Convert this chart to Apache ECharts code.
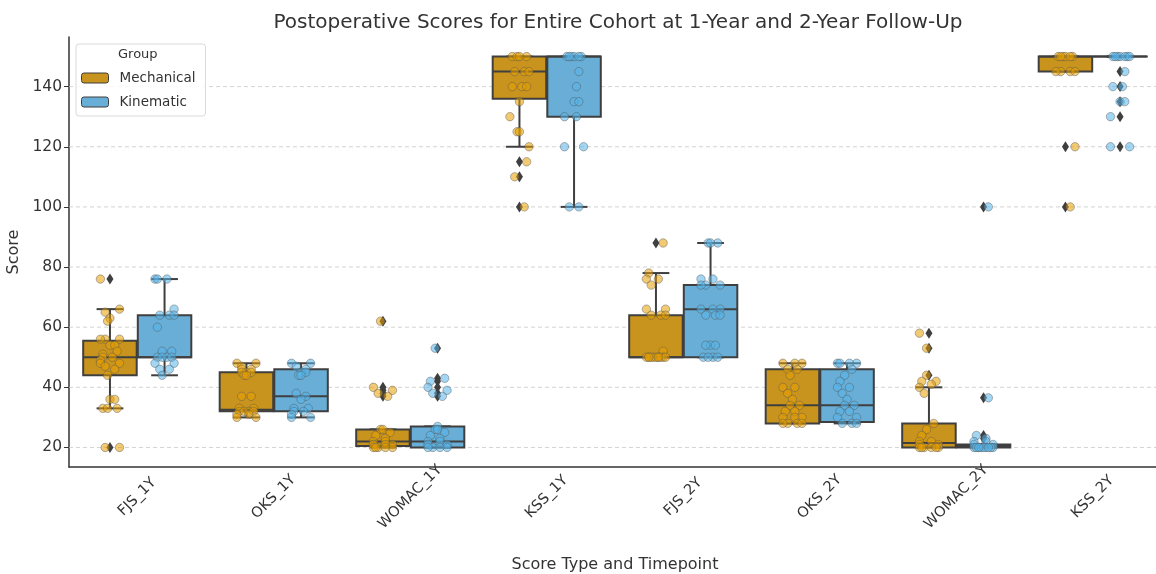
<!DOCTYPE html>
<html>
<head>
<meta charset="utf-8">
<script src="https://cdn.jsdelivr.net/npm/echarts@6/dist/echarts.min.js"></script>
<style>html,body{margin:0;padding:0;background:#fff}#chart{width:1156px;height:574px}</style>
</head>
<body>
<div id="chart"></div>
<script>
const categories = ["FJS_1Y", "OKS_1Y", "WOMAC_1Y", "KSS_1Y", "FJS_2Y", "OKS_2Y", "WOMAC_2Y", "KSS_2Y"];
const yTicks = [20, 40, 60, 80, 100, 120, 140];

// box stats: [lower whisker, Q1, median, Q3, upper whisker]
const mechBox = [
  [33, 44, 50, 55.5, 66],
  [30, 32, 32.5, 45, 48],
  [20, 20.5, 22, 26, 26],
  [120, 136, 145, 150, 150],
  [50, 50, 50, 64, 78],
  [28, 28, 34, 46, 48],
  [20, 20, 21.5, 28, 40],
  [145, 145, 150, 150, 150]
];
const kinBox = [
  [44, 50, 50, 64, 76],
  [30, 32, 37, 46, 48],
  [20, 20, 22, 27, 27],
  [100, 130, 150, 150, 150],
  [50, 50, 66, 74, 88],
  [28, 28.5, 34, 46, 48],
  [20, 20, 20.5, 21, 21],
  [150, 150, 150, 150, 150]
];

// fliers: [category index, value]
const mechOutliers = [[0, 76], [0, 20], [2, 62], [2, 40], [2, 39], [2, 38], [2, 37], [3, 115], [3, 110], [3, 100],
  [4, 88], [6, 58], [6, 53], [6, 44], [7, 120], [7, 100]];
const kinOutliers = [[2, 53], [2, 43], [2, 42], [2, 40], [2, 38], [2, 37], [6, 100], [6, 36.5], [6, 24], [6, 23],
  [7, 145], [7, 140], [7, 135], [7, 130], [7, 120]];

// individual scores per category
const mechPoints = [
  [76, 66, 65, 63, 62, 56, 56, 56, 54, 54, 52, 51, 50, 50, 49, 48, 48, 47, 46, 44, 36, 36, 33, 33, 33, 20, 20],
  [48, 48, 47, 46, 46, 45, 45, 45, 44, 44, 37, 37, 33, 33, 32, 32, 32, 32, 31, 31, 30, 30],
  [62, 40, 39, 38, 37, 26, 26, 25, 24, 23, 22, 22, 21, 21, 21, 20, 20, 20, 20, 20],
  [150, 150, 150, 150, 145, 145, 145, 140, 140, 140, 135, 130, 125, 125, 120, 115, 110, 100],
  [88, 78, 76, 76, 74, 66, 66, 64, 64, 64, 52, 50, 50, 50, 50, 50, 50, 50, 50, 50, 50, 50],
  [48, 48, 48, 46, 46, 44, 40, 40, 38, 36, 34, 34, 32, 32, 30, 30, 30, 28, 28, 28, 28],
  [58, 53, 44, 42, 42, 41, 40, 38, 28, 26, 24, 22, 22, 21, 21, 20, 20, 20, 20, 20, 20],
  [150, 150, 150, 150, 150, 150, 145, 145, 145, 145, 120, 100]
];
const kinPoints = [
  [76, 76, 76, 66, 64, 64, 64, 60, 52, 52, 50, 50, 50, 50, 48, 48, 46, 46, 44],
  [48, 48, 47, 46, 45, 45, 44, 44, 38, 37, 36, 33, 33, 32, 32, 31, 30, 30],
  [53, 43, 42, 40, 39, 38, 37, 27, 26, 26, 25, 24, 23, 22, 22, 21, 21, 20, 20, 20, 20],
  [150, 150, 150, 150, 150, 150, 145, 140, 135, 135, 130, 130, 120, 120, 100, 100],
  [88, 88, 88, 76, 76, 74, 74, 74, 66, 66, 66, 64, 64, 64, 54, 54, 54, 50, 50, 50, 50],
  [48, 48, 48, 48, 46, 44, 42, 40, 40, 38, 36, 34, 34, 32, 32, 30, 30, 28, 28, 28],
  [100, 36.5, 24, 23, 22, 22, 21, 21, 20, 20, 20, 20, 20, 20, 20, 20, 20, 20],
  [150, 150, 150, 150, 150, 150, 150, 145, 140, 140, 135, 135, 130, 120, 120]
];

const mechBoxColor = "#C9941D";
const kinBoxColor = "#68AED6";
const mechDotColor = "#E69F00";
const kinDotColor = "#56B4E9";
const edge = "#3f3f3f";

// spread overlapping dots sideways (strip plot look)
const jitterSteps = [0, 0.5, -0.5, 1, -1, 0.25, -0.75, 0.75, -0.25];
const buildPoints = (lists) => {
  const out = [];
  lists.forEach((vals, ci) => {
    const seen = {};
    vals.forEach((v) => {
      const k = seen[v] || 0;
      seen[v] = k + 1;
      out.push([ci, v, jitterSteps[(k + Math.round(v)) % jitterSteps.length]]);
    });
  });
  return out;
};

const renderBox = (side, fill) => (params, api) => {
  const bw = api.size([1, 0])[0];
  const cx = api.coord([api.value(0), 0])[0] + side * 0.2 * bw;
  const hw = 0.196 * bw;
  const y = (i) => api.coord([api.value(0), api.value(i)])[1];
  const lo = y(1), q1 = y(2), med = y(3), q3 = y(4), hi = y(5);
  const line = { stroke: edge, lineWidth: 2 };
  return {
    type: "group",
    children: [
      { type: "line", shape: { x1: cx, y1: q1, x2: cx, y2: lo }, style: line },
      { type: "line", shape: { x1: cx, y1: q3, x2: cx, y2: hi }, style: line },
      { type: "line", shape: { x1: cx - hw / 2, y1: lo, x2: cx + hw / 2, y2: lo }, style: line },
      { type: "line", shape: { x1: cx - hw / 2, y1: hi, x2: cx + hw / 2, y2: hi }, style: line },
      { type: "rect", shape: { x: cx - hw, y: q3, width: 2 * hw, height: Math.max(q1 - q3, 0.01) },
        style: { fill: fill, stroke: edge, lineWidth: 2 } },
      { type: "line", shape: { x1: cx - hw, y1: med, x2: cx + hw, y2: med }, style: line }
    ]
  };
};

const renderFlier = (side) => (params, api) => {
  const bw = api.size([1, 0])[0];
  const p = api.coord([api.value(0), api.value(1)]);
  const x = p[0] + side * 0.2 * bw;
  return {
    type: "polygon",
    shape: { points: [[x, p[1] - 5.5], [x + 3.5, p[1]], [x, p[1] + 5.5], [x - 3.5, p[1]]] },
    style: { fill: edge }
  };
};

const renderDots = (side, color) => (params, api) => {
  const bw = api.size([1, 0])[0];
  const p = api.coord([api.value(0), api.value(1)]);
  const x = p[0] + side * 0.2 * bw + api.value(2) * 0.07 * bw;
  return {
    type: "circle",
    shape: { cx: x, cy: p[1], r: 4.2 },
    style: { fill: color, stroke: "#555", lineWidth: 0.8, opacity: 0.55 }
  };
};

const renderGrid = (params, api) => {
  const cs = params.coordSys;
  const yy = api.coord([0, api.value(1)])[1];
  return {
    type: "line",
    shape: { x1: cs.x, y1: yy, x2: cs.x + cs.width, y2: yy },
    style: { stroke: "#c8c8c8", lineWidth: 0.8, lineDash: [4, 3] }
  };
};

const chart = echarts.init(document.getElementById("chart"));

chart.setOption({
  animation: false,
  textStyle: { fontFamily: "DejaVu Sans" },
  title: {
    text: "Postoperative Scores for Entire Cohort at 1-Year and 2-Year Follow-Up",
    left: 613,
    textAlign: "center",
    top: 8,
    textStyle: { fontSize: 20, fontWeight: "normal", color: "#333" }
  },
  legend: {
    data: ["Mechanical", "Kinematic"],
    orient: "vertical",
    left: 76,
    top: 44,
    padding: [27, 10, 7, 5],
    itemWidth: 27,
    itemHeight: 10,
    itemGap: 10,
    borderColor: "#d9d9d9",
    borderWidth: 1,
    borderRadius: 3,
    backgroundColor: "rgba(255,255,255,0.85)",
    itemStyle: { borderColor: edge, borderWidth: 1 },
    textStyle: { fontSize: 13.5, color: "#333", padding: [0, 0, 0, 6] },
    selectedMode: false
  },
  graphic: [{
    type: "text",
    left: 118,
    top: 48,
    z: 100,
    style: { text: "Group", fontSize: 13, fill: "#333", fontFamily: "DejaVu Sans" }
  }],
  grid: { left: 69, top: 37, bottom: 107, width: 1092, outerBoundsMode: "none", containLabel: false },
  xAxis: {
    type: "category",
    data: categories,
    name: "Score Type and Timepoint",
    nameLocation: "middle",
    nameGap: 90,
    nameTextStyle: { fontSize: 16, color: "#333" },
    axisLine: { lineStyle: { color: "#333", width: 1.5 } },
    axisTick: { alignWithLabel: true, length: 5, lineStyle: { color: "#333" } },
    axisLabel: { rotate: 45, fontSize: 14.5, color: "#333", margin: 30, align: "center", verticalAlign: "middle" },
    splitLine: { show: false }
  },
  yAxis: {
    type: "value",
    min: 13.5,
    max: 156.5,
    name: "Score",
    nameLocation: "middle",
    nameGap: 44,
    nameRotate: 90,
    nameTextStyle: { fontSize: 16, color: "#333" },
    axisLine: { show: true, lineStyle: { color: "#333", width: 1.5 } },
    axisTick: { show: true, length: 5, customValues: yTicks, lineStyle: { color: "#333" } },
    axisLabel: { fontSize: 15.5, color: "#333", margin: 7, customValues: yTicks },
    splitLine: { show: false }
  },
  series: [
    { type: "custom", name: "grid", renderItem: renderGrid, data: yTicks.map((v) => [0, v]), z: 1, silent: true },
    { type: "custom", name: "Mechanical", renderItem: renderBox(-1, mechBoxColor), itemStyle: { color: mechBoxColor },
      data: mechBox.map((b, i) => [i].concat(b)), z: 2 },
    { type: "custom", name: "Kinematic", renderItem: renderBox(1, kinBoxColor), itemStyle: { color: kinBoxColor },
      data: kinBox.map((b, i) => [i].concat(b)), z: 2 },
    { type: "custom", name: "mech fliers", renderItem: renderFlier(-1), data: mechOutliers, z: 3 },
    { type: "custom", name: "kin fliers", renderItem: renderFlier(1), data: kinOutliers, z: 3 },
    { type: "custom", name: "mech dots", renderItem: renderDots(-1, mechDotColor), data: buildPoints(mechPoints), z: 4 },
    { type: "custom", name: "kin dots", renderItem: renderDots(1, kinDotColor), data: buildPoints(kinPoints), z: 4 }
  ]
});
</script>
</body>
</html>
